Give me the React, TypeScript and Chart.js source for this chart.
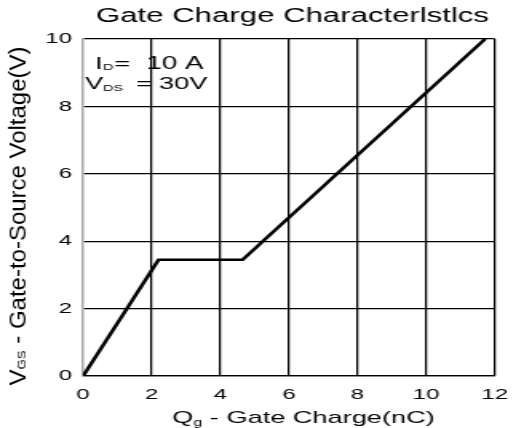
import React, { useEffect, useRef } from 'react';
import { Chart, registerables } from 'chart.js';

Chart.register(...registerables);

// ---- data ----
const chargeNC = [0, 2.2, 4.65, 11.72];
const vgsV = [0, 3.45, 3.45, 10];
const xTickValues = [0, 2, 4, 6, 8, 10, 12];
const yTickValues = [0, 2, 4, 6, 8, 10];
const chartTitle = 'Gate Charge Characterlstlcs';
const xTitleParts = ['Q', 'g', ' - Gate Charge(nC)'];
const yTitleParts = ['V', 'GS', ' - Gate-to-Source Voltage(V)'];
const noteLine1 = ['I', 'D', '=', '10 A'];
const noteLine2 = ['V', 'DS', '=', '30V'];

// display size and horizontal stretch (the reference is stretched horizontally)
const DW = 524;
const DH = 428;
const IW = 328; // internal canvas width
const SX = DW / IW;
const FONT = '"Liberation Sans", Arial, Helvetica, sans-serif';

type Part = { t: string; size: number; dy: number };

function partsWidth(ctx: CanvasRenderingContext2D, parts: Part[]) {
  let w = 0;
  for (const p of parts) {
    ctx.font = `${p.size}px ${FONT}`;
    w += ctx.measureText(p.t).width;
  }
  return w;
}

function drawParts(ctx: CanvasRenderingContext2D, parts: Part[], x: number, y: number) {
  let cx = x;
  for (const p of parts) {
    ctx.font = `${p.size}px ${FONT}`;
    ctx.fillText(p.t, cx, y + p.dy);
    cx += ctx.measureText(p.t).width;
  }
}

const textPlugin = {
  id: 'textPlugin',
  afterDraw(chart: any) {
    const ctx: CanvasRenderingContext2D = chart.ctx;
    const area = chart.chartArea;
    ctx.save();
    ctx.fillStyle = '#000';
    ctx.textBaseline = 'alphabetic';
    ctx.textAlign = 'left';

    // title
    ctx.font = `19.5px ${FONT}`;
    ctx.textAlign = 'center';
    ctx.fillText(chartTitle, 292.5 / SX, 21.5);
    ctx.textAlign = 'left';

    // x title
    const xp: Part[] = [
      { t: xTitleParts[0], size: 17, dy: 0 },
      { t: xTitleParts[1], size: 10, dy: 3 },
      { t: xTitleParts[2], size: 17, dy: 0 },
    ];
    const xw = partsWidth(ctx, xp);
    drawParts(ctx, xp, 303.5 / SX - xw / 2, 423);

    // y title (rotated)
    const yp: Part[] = [
      { t: yTitleParts[0], size: 14.5, dy: 0 },
      { t: yTitleParts[1], size: 8, dy: 0.5 },
      { t: yTitleParts[2], size: 14.5, dy: 0 },
    ];
    const yw = partsWidth(ctx, yp);
    ctx.save();
    ctx.translate(25 / SX, 216);
    ctx.rotate(-Math.PI / 2);
    const ls = 339 / yw;
    ctx.scale(ls, 1);
    drawParts(ctx, yp, -yw / 2, 0);
    ctx.restore();

    // annotation
    const L = area.left;
    const disp = (d: number) => d / SX; // display px -> internal px
    ctx.font = `17px ${FONT}`;
    ctx.fillText(noteLine1[0], L + disp(12), 69);
    ctx.font = `9px ${FONT}`;
    ctx.fillText(noteLine1[1], L + disp(20), 69.5);
    ctx.font = `17px ${FONT}`;
    ctx.fillText(noteLine1[2], L + disp(31), 69);
    ctx.font = `17.5px ${FONT}`;
    ctx.fillText(noteLine1[3], L + disp(63), 69);

    ctx.font = `17px ${FONT}`;
    ctx.fillText(noteLine2[0], L + disp(2), 89);
    ctx.font = `9px ${FONT}`;
    ctx.fillText(noteLine2[1], L + disp(20), 91);
    ctx.font = `17px ${FONT}`;
    ctx.fillText(noteLine2[2], L + disp(53), 89);
    ctx.fillText(noteLine2[3], L + disp(76), 89);
    ctx.restore();
  },
};

export default function App() {
  const ref = useRef<HTMLCanvasElement | null>(null);

  useEffect(() => {
    const canvas = ref.current;
    if (!canvas) return;
    const chart = new Chart(canvas, {
      type: 'line',
      data: {
        datasets: [
          {
            data: chargeNC.map((x, i) => ({ x, y: vgsV[i] })),
            borderColor: '#000',
            borderWidth: 2.5,
            pointRadius: 0,
            tension: 0,
            fill: false,
          },
        ],
      },
      options: {
        responsive: false,
        animation: false,
        devicePixelRatio: 1,
        layout: { padding: { top: 39, right: 10, left: 0, bottom: 0 } },
        plugins: {
          legend: { display: false },
          title: { display: false },
          tooltip: { enabled: false },
        },
        scales: {
          x: {
            type: 'linear',
            min: 0,
            max: 12,
            afterBuildTicks: (s: any) => {
              s.ticks = xTickValues.map((v) => ({ value: v }));
            },
            afterFit: (s: any) => {
              s.height = 52;
            },
            grid: {
              color: (c: any) => (c.tick && c.tick.value === 0 ? 'rgba(0,0,0,0)' : '#000'),
              lineWidth: 1.25,
              drawTicks: false,
            },
            border: { color: '#000', width: 1.25 },
            ticks: {
              color: '#000',
              font: { family: FONT, size: 15 },
              padding: 10,
              maxRotation: 0,
              autoSkip: false,
            },
          },
          y: {
            type: 'linear',
            min: 0,
            max: 10,
            afterBuildTicks: (s: any) => {
              s.ticks = yTickValues.map((v) => ({ value: v }));
            },
            afterFit: (s: any) => {
              s.width = 52;
            },
            grid: {
              color: '#000',
              lineWidth: 1.2,
              drawTicks: false,
            },
            border: { color: '#a8a8a8', width: 1.5 },
            ticks: {
              color: '#000',
              font: { family: FONT, size: 15 },
              padding: 7,
              autoSkip: false,
            },
          },
        },
      },
      plugins: [textPlugin],
    } as any);
    return () => chart.destroy();
  }, []);

  return (
    <canvas
      ref={ref}
      width={IW}
      height={DH}
      style={{ position: 'fixed', left: 0, top: 0, width: DW + 'px', height: DH + 'px', display: 'block' }}
    />
  );
}
